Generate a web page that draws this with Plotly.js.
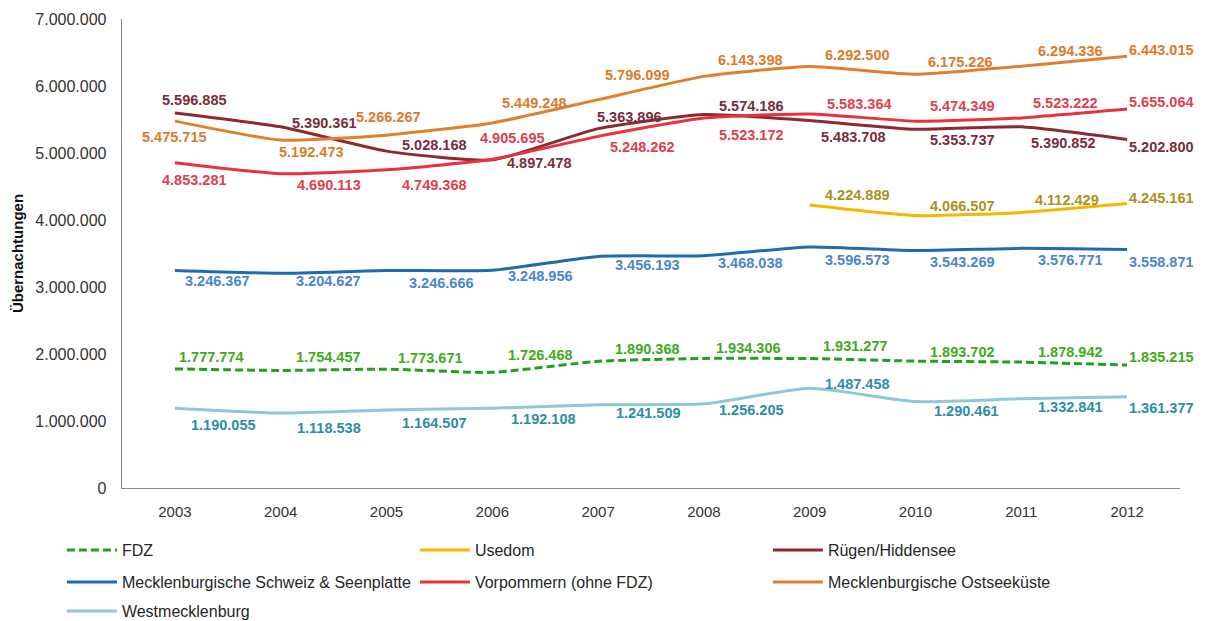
<!DOCTYPE html>
<html>
<head>
<meta charset="utf-8">
<script src="https://cdn.plot.ly/plotly-3.0.1.min.js"></script>
<style>html,body{margin:0;padding:0;background:#fff;}#chart{width:1209px;height:621px;}</style>
</head>
<body>
<div id="chart"></div>
<script>
// ---- data ----
const years = ['2003','2004','2005','2006','2007','2008','2009','2010','2011','2012'];
const fdz = [1777774,1754457,1773671,1726468,1890368,1934306,1931277,1893702,1878942,1835215];
const usedom = [null,null,null,null,null,null,4224889,4066507,4112429,4245161];
const ruegen = [5596885,5390361,5028168,4897478,5363896,5574186,5483708,5353737,5390852,5202800];
const seenplatte = [3246367,3204627,3246666,3248956,3456193,3468038,3596573,3543269,3576771,3558871];
const vorpommern = [4853281,4690113,4749368,4905695,5248262,5523172,5583364,5474349,5523222,5655064];
const ostseekueste = [5475715,5192473,5266267,5449248,5796099,6143398,6292500,6175226,6294336,6443015];
const westmecklenburg = [1190055,1118538,1164507,1192108,1241509,1256205,1487458,1290461,1332841,1361377];
const seriesNames = ['FDZ','Usedom','Rügen/Hiddensee','Mecklenburgische Schweiz & Seenplatte','Vorpommern (ohne FDZ)','Mecklenburgische Ostseeküste','Westmecklenburg'];
const yTitle = 'Übernachtungen';

// ---- label offsets (px, label centre relative to point; +dy = downwards) ----
const offFdz = [[37,-12],[48,-13],[44,-11],[48,-17],[49,-12],[45,-10],[46,-13],[47,-9],[49,-10],[34,-8]];
const offUsedom = [null,null,null,null,null,null,[48,-10],[47,-10],[46,-12],[34,-6]];
const offRuegen = [[20,-13],[44,-4],[48,-6],[47,3],[31,-12],[48,-9],[44,16],[47,11],[42,16],[34,8]];
const offSeen = [[43,11],[48,8],[55,13],[48,6],[49,9],[47,7],[48,13],[47,11],[49,12],[34,12]];
const offVor = [[20,17],[48,11],[48,15],[20,-21],[44,11],[48,17],[50,-10],[47,-15],[44,-15],[34,-7]];
const offOst = [[0,16],[31,12],[2,-18],[42,-20],[39,-25],[47,-16],[48,-11],[45,-12],[49,-15],[34,-6]];
const offWest = [[49,17],[48,15],[48,13],[51,11],[50,8],[48,6],[48,-4],[51,9],[49,8],[34,11]];

const series = [
  {name: seriesNames[0], y: fdz, line: '#22A022', label: '#3FAA1C', dash: '8px,4px', off: offFdz, legend: 'legend'},
  {name: seriesNames[1], y: usedom, line: '#F5B800', label: '#A8921E', dash: 'solid', off: offUsedom, legend: 'legend'},
  {name: seriesNames[2], y: ruegen, line: '#8C2A30', label: '#7A2C3C', dash: 'solid', off: offRuegen, legend: 'legend'},
  {name: seriesNames[3], y: seenplatte, line: '#1F6BB0', label: '#4B86C6', dash: 'solid', off: offSeen, legend: 'legend2'},
  {name: seriesNames[4], y: vorpommern, line: '#E8323E', label: '#E0404E', dash: 'solid', off: offVor, legend: 'legend2'},
  {name: seriesNames[5], y: ostseekueste, line: '#E0802E', label: '#DC7A2C', dash: 'solid', off: offOst, legend: 'legend2'},
  {name: seriesNames[6], y: westmecklenburg, line: '#8FC8D6', label: '#2F8CA6', dash: 'solid', off: offWest, legend: 'legend3'}
];

function fmt(v){ return String(v).replace(/\B(?=(\d{3})+(?!\d))/g, '.'); }

const FONT = 'Liberation Sans, Arial, sans-serif';
const traces = series.map(s => ({
  type: 'scatter', mode: 'lines', name: s.name, x: years, y: s.y,
  line: {color: s.line, width: 3, dash: s.dash, shape: 'spline', smoothing: 0.5},
  legend: s.legend, hoverinfo: 'skip'
}));

const annotations = [];
series.forEach(s => {
  s.y.forEach((v, i) => {
    if (v === null) return;
    annotations.push({
      x: i, y: v, xref: 'x', yref: 'y', showarrow: false,
      text: '<b>' + fmt(v) + '</b>',
      xanchor: 'center', yanchor: 'middle',
      xshift: s.off[i][0], yshift: -s.off[i][1],
      font: {family: FONT, size: 14.5, color: s.label}
    });
  });
});

const legendBase = {orientation: 'h', xref: 'container', yref: 'container', x: 0.0512, xanchor: 'left', yanchor: 'middle',
  entrywidth: 288, entrywidthmode: 'pixels', itemwidth: 50, bgcolor: 'rgba(0,0,0,0)',
  font: {family: FONT, size: 16, color: '#262626'}, traceorder: 'normal'};

const layout = {
  width: 1209, height: 621,
  margin: {l: 122, r: 29, t: 19, b: 133},
  paper_bgcolor: '#fff', plot_bgcolor: '#fff',
  separators: ',.',
  showlegend: true,
  font: {family: FONT, color: '#404040'},
  xaxis: {type: 'category', range: [-0.5, 9.5], autorange: false, showline: true, linecolor: '#868686', linewidth: 1.3,
    ticks: '', showgrid: false, ticklabelstandoff: 10,
    tickfont: {size: 15, color: '#333'}, fixedrange: true},
  yaxis: {range: [0, 7000000], autorange: false, dtick: 1000000, tickformat: ',d', showline: true, linecolor: '#868686', linewidth: 1.3,
    ticks: '', showgrid: false, zeroline: false, tickfont: {size: 16, color: '#333'}, ticklabelstandoff: 11,
    title: {text: '<b>' + yTitle + '</b>', font: {size: 15, color: '#111'}, standoff: 8}, fixedrange: true},
  legend: Object.assign({}, legendBase, {y: 1 - 550/621}),
  legend2: Object.assign({}, legendBase, {y: 1 - 582/621}),
  legend3: Object.assign({}, legendBase, {y: 1 - 611/621}),
  annotations: annotations
};

Plotly.newPlot('chart', traces, layout, {displayModeBar: false, staticPlot: true});
</script>
</body>
</html>
